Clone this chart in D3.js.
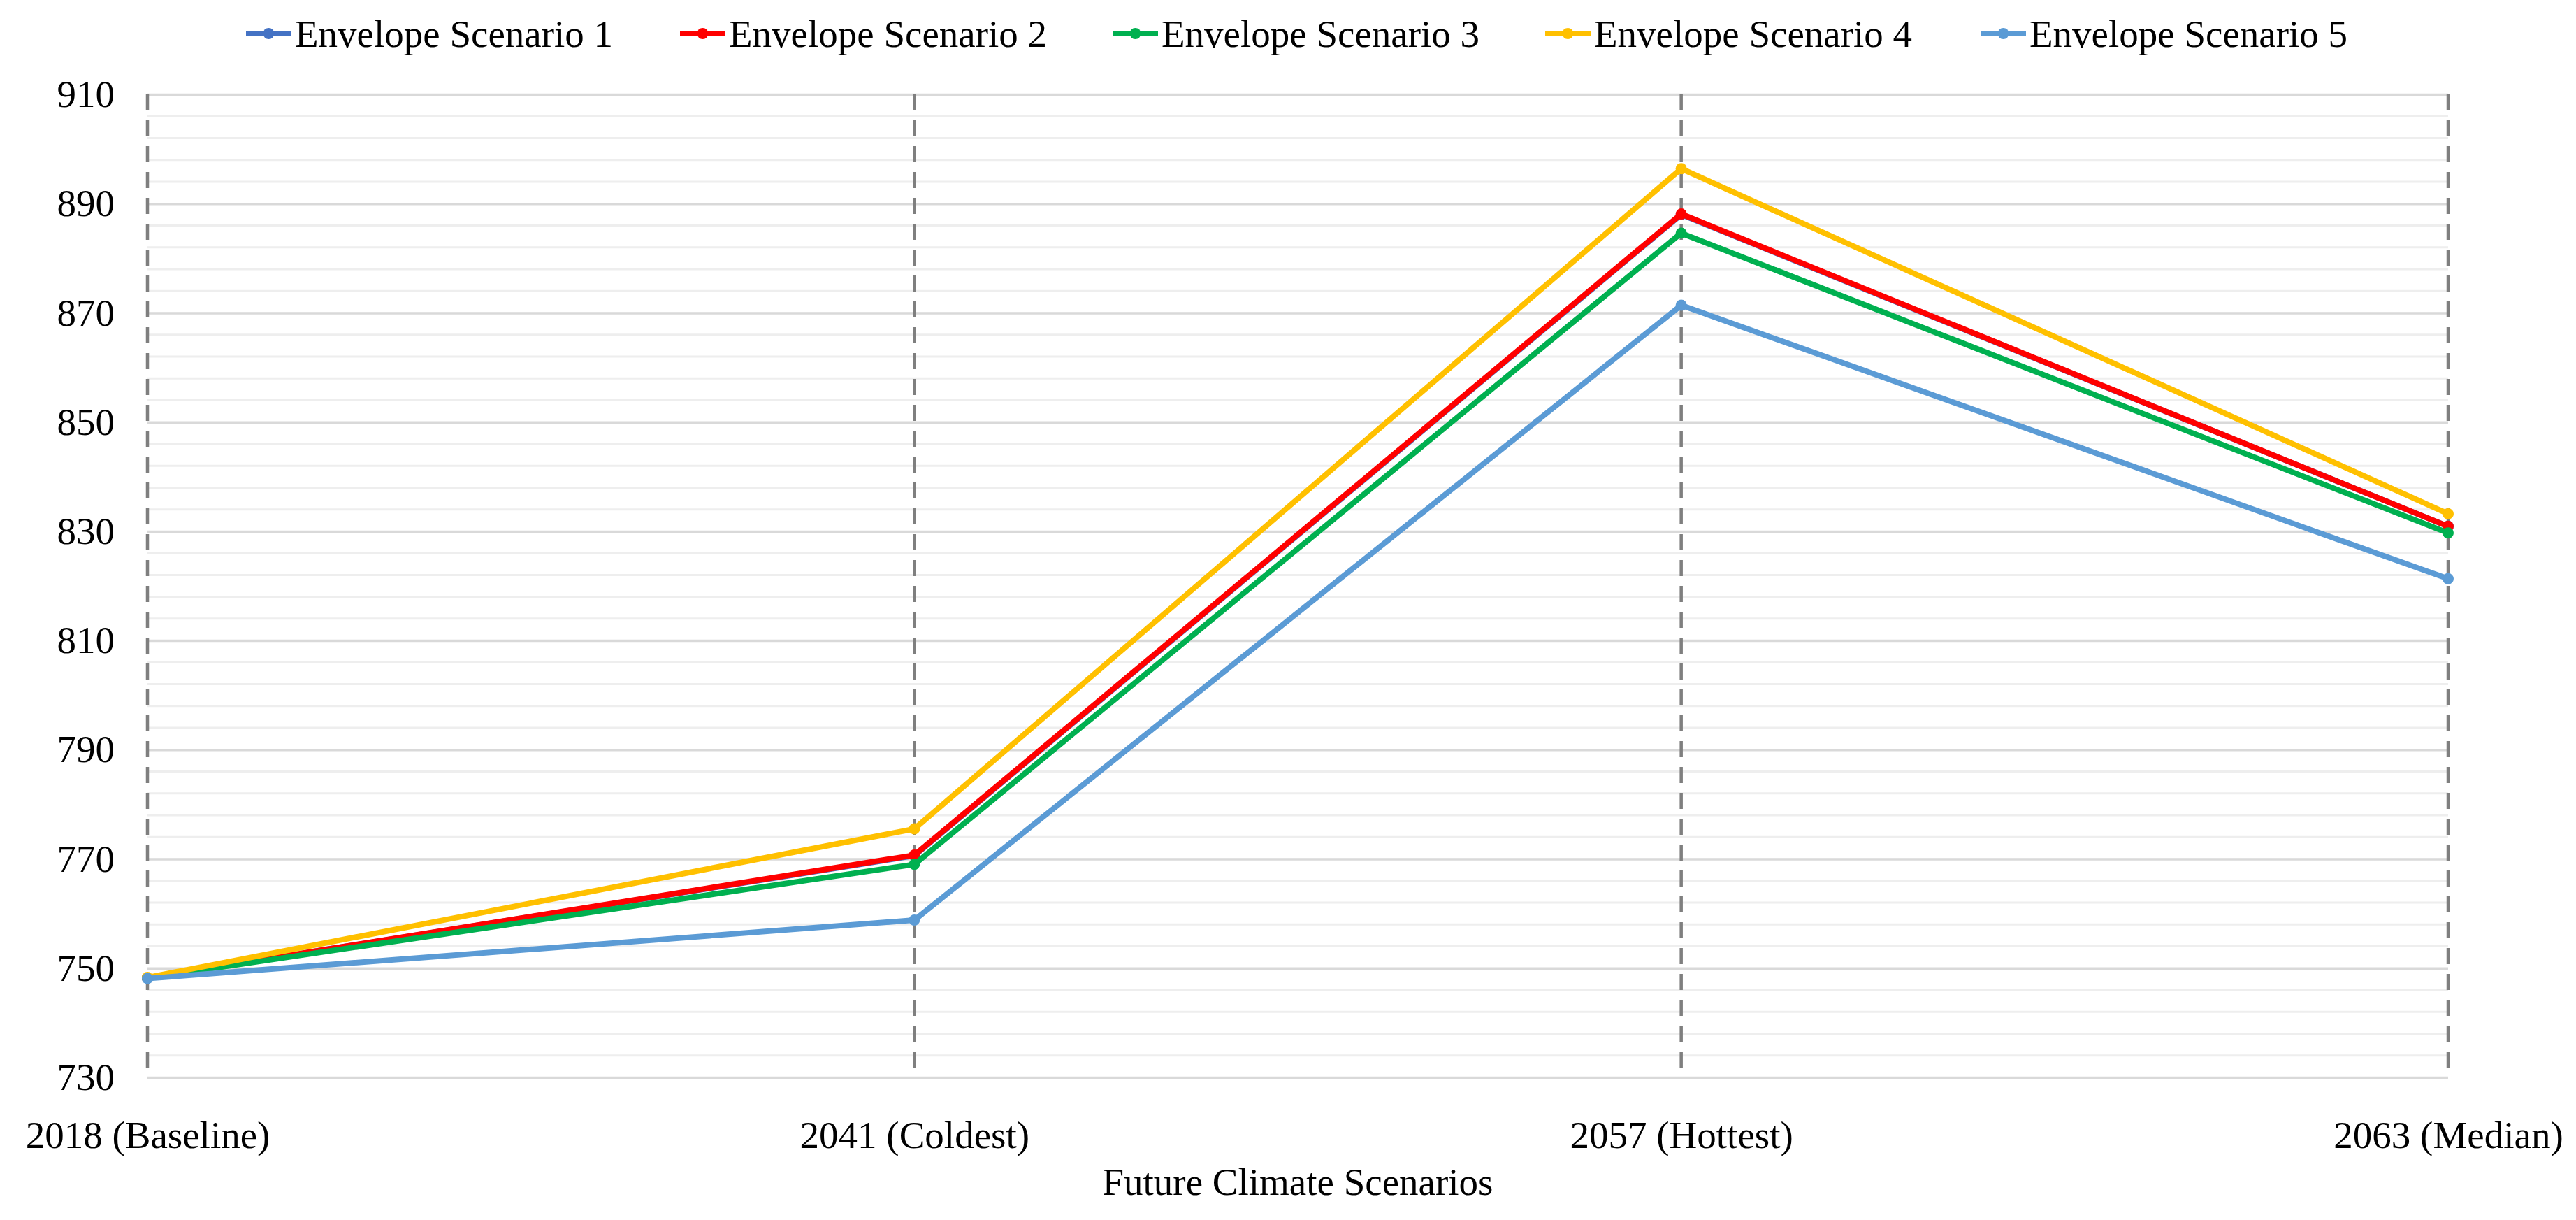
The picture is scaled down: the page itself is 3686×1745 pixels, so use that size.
<!DOCTYPE html>
<html>
<head>
<meta charset="utf-8">
<script src="https://cdn.jsdelivr.net/npm/d3@7"></script>
<style>
  html, body { margin: 0; padding: 0; background: #ffffff; }
  svg { display: block; }
  text { font-family: "Liberation Serif", "Times New Roman", serif; fill: #000; }
</style>
</head>
<body>
<svg id="chart" width="3686" height="1745"></svg>
<script>
const categories = ["2018 (Baseline)", "2041 (Coldest)", "2057 (Hottest)", "2063 (Median)"];
const seriesNames = ["Envelope Scenario 1", "Envelope Scenario 2", "Envelope Scenario 3", "Envelope Scenario 4", "Envelope Scenario 5"];
const seriesColors = ["#4472C4", "#FF0000", "#00B050", "#FFC000", "#5B9BD5"];
const scenario1 = [748.2, 770.6, 888.0, 830.9];
const scenario2 = [748.2, 770.7, 888.1, 830.9];
const scenario3 = [748.2, 769.0, 884.6, 829.7];
const scenario4 = [748.3, 775.5, 896.4, 833.2];
const scenario5 = [748.1, 758.8, 871.4, 821.3];
const seriesValues = [scenario1, scenario2, scenario3, scenario4, scenario5];
const yTicks = [730, 750, 770, 790, 810, 830, 850, 870, 890, 910];
const xTitle = "Future Climate Scenarios";

(function () {
const svg = d3.select("#chart");
const pL = 211, pR = 3503, pT = 135, pB = 1541;
const FS = 55;

const x = d3.scalePoint().domain(categories).range([pL, pR]);
const y = d3.scaleLinear().domain([730, 910]).range([pB, pT]);

// minor gridlines every 4
const minor = d3.range(730, 910.001, 4).filter(v => (v - 730) % 20 !== 0);
svg.append("g").selectAll("line").data(minor).join("line")
  .attr("x1", pL).attr("x2", pR)
  .attr("y1", d => y(d)).attr("y2", d => y(d))
  .attr("stroke", "#eeeeee").attr("stroke-width", 3);

// y axis with major gridlines
const yAxis = d3.axisLeft(y).tickValues(yTicks).tickSize(-(pR - pL)).tickPadding(47).tickFormat(d3.format("d"));
const gy = svg.append("g").attr("transform", `translate(${pL},0)`).call(yAxis);
gy.select(".domain").remove();
gy.selectAll(".tick line").attr("stroke", "#d9d9d9").attr("stroke-width", 3.5);
gy.selectAll(".tick text").attr("font-size", FS).attr("font-family", "Liberation Serif").attr("fill", "#000");

// dashed vertical lines
svg.append("g").selectAll("line").data(categories).join("line")
  .attr("x1", d => x(d)).attr("x2", d => x(d))
  .attr("y1", pT).attr("y2", pB)
  .attr("stroke", "#7f7f7f").attr("stroke-width", 4.5)
  .attr("stroke-dasharray", "23,14");

// x axis labels
const xAxis = d3.axisBottom(x).tickSize(0).tickPadding(62);
const gx = svg.append("g").attr("transform", `translate(0,${pB})`).call(xAxis);
gx.select(".domain").remove();
gx.selectAll(".tick text").attr("font-size", FS).attr("font-family", "Liberation Serif").attr("fill", "#000");

// x axis title
svg.append("text").attr("x", (pL + pR) / 2).attr("y", 1690)
  .attr("text-anchor", "middle").attr("dominant-baseline", "central")
  .attr("font-size", FS).text(xTitle);

// lines
const line = d3.line().x((d, i) => x(categories[i])).y(d => y(d));
seriesValues.forEach((vals, si) => {
  svg.append("path").datum(vals)
    .attr("fill", "none").attr("stroke", seriesColors[si]).attr("stroke-width", 8)
    .attr("stroke-linejoin", "round").attr("d", line);
  svg.append("g").selectAll("circle").data(vals).join("circle")
    .attr("cx", (d, i) => x(categories[i])).attr("cy", d => y(d))
    .attr("r", 8).attr("fill", seriesColors[si]);
});

// legend
const legendStarts = [352, 973, 1592, 2211, 2834];
const lg = svg.append("g");
seriesNames.forEach((name, i) => {
  const g = lg.append("g").attr("transform", `translate(${legendStarts[i]},48)`);
  g.append("line").attr("x1", 0).attr("x2", 65).attr("y1", 0).attr("y2", 0)
    .attr("stroke", seriesColors[i]).attr("stroke-width", 7);
  g.append("circle").attr("cx", 32.5).attr("cy", 0).attr("r", 8).attr("fill", seriesColors[i]);
  g.append("text").attr("x", 70).attr("y", 0).attr("dominant-baseline", "central")
    .attr("font-size", FS).text(name);
});
})();
</script>
</body>
</html>
